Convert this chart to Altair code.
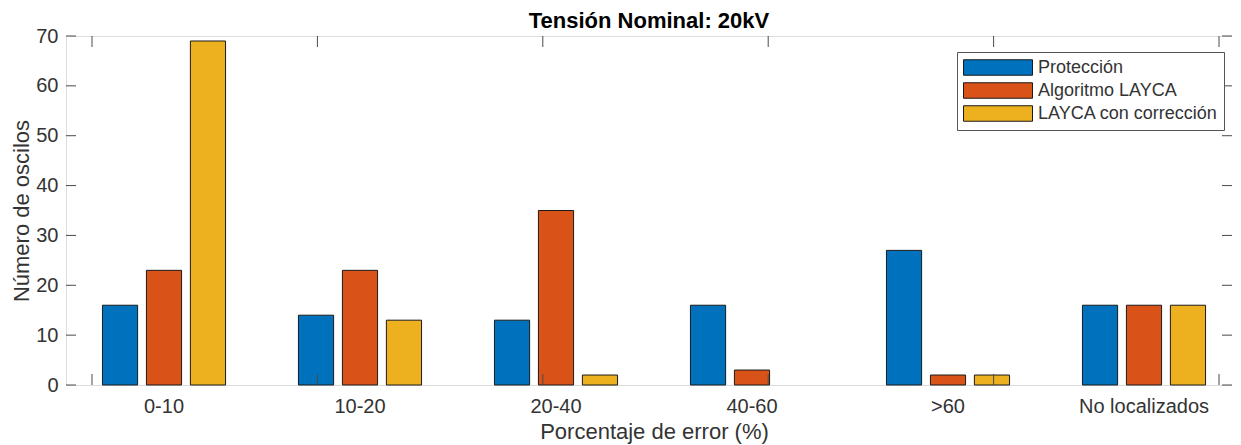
import altair as alt
import pandas as pd

# ---- data ----
categories = ["0-10", "10-20", "20-40", "40-60", ">60", "No localizados"]
series = ["Protección", "Algoritmo LAYCA", "LAYCA con corrección"]
proteccion = [16, 14, 13, 16, 27, 16]
algoritmo_layca = [23, 23, 35, 3, 2, 16]
layca_correccion = [69, 13, 2, 0, 2, 16]
colors = ["#0072BD", "#D95319", "#EDB120"]
y_ticks = [0, 10, 20, 30, 40, 50, 60, 70]
x_tick_positions = [1, 2, 3, 4, 5, 6]

rows = []
for s, vals in zip(series, [proteccion, algoritmo_layca, layca_correccion]):
    for c, v in zip(categories, vals):
        rows.append({"cat": c, "serie": s, "value": v})
df = pd.DataFrame(rows)
ydf = pd.DataFrame({"value": y_ticks})
xdf = pd.DataFrame({"p": x_tick_positions})

W, H = 1166, 349
XR = 1176  # full axis span of the original (right part cropped off)
FONT = "Liberation Sans"
AX = "#4a4a4a"
TXT = "#333333"

yscale = alt.Scale(domain=[0, 70], nice=False, zero=True)
xq = alt.Scale(domain=[0.8847, 6.102], range=[0, XR], nice=False, zero=False)
yaxis = alt.Axis(title="Número de oscilos", values=y_ticks, ticks=False,
                 domain=False, grid=False, labelPadding=8, titlePadding=2,
                 labelFontSize=20, titleFontSize=22, labelFont=FONT,
                 titleFont=FONT, labelColor=TXT, titleColor=TXT,
                 titleFontWeight="normal")

bars = alt.Chart(df).transform_filter("datum.value > 0").mark_bar(
    stroke="#1a1a1a", strokeWidth=1
).encode(
    x=alt.X("cat:N", sort=categories,
            scale=alt.Scale(paddingInner=0.327, paddingOuter=0.1635, range=[0, XR]),
            axis=alt.Axis(title="Porcentaje de error (%)", labelAngle=0, ticks=False,
                          domain=False, labelPadding=11, titlePadding=5,
                          labelFontSize=20, titleFontSize=22, labelFont=FONT,
                          titleFont=FONT, labelColor=TXT, titleColor=TXT,
                          titleFontWeight="normal", titleX=W / 2 + 5)),
    xOffset=alt.XOffset("serie:N", sort=series,
                        scale=alt.Scale(paddingInner=0.2, paddingOuter=0.1)),
    y=alt.Y("value:Q", scale=yscale, axis=yaxis),
    color=alt.Color("serie:N", sort=series,
                    scale=alt.Scale(domain=series, range=colors),
                    legend=alt.Legend(title=None, orient="none", legendX=891, legendY=16,
                                      symbolType="M-1,-0.861L6.667,-0.861L6.667,0.861L-1,0.861Z",
                                      symbolSize=324, symbolStrokeColor="#1a1a1a",
                                      symbolStrokeWidth=1, symbolOpacity=1,
                                      labelFontSize=18, labelFont=FONT, labelColor=TXT,
                                      labelOffset=56, labelLimit=400, rowPadding=2,
                                      padding=6, strokeColor="#555555",
                                      fillColor="white", cornerRadius=0)),
)

yl = alt.Chart(ydf).mark_rule(color=AX, strokeWidth=1).encode(
    y=alt.Y("value:Q", scale=yscale, axis=yaxis), x=alt.value(0), x2=alt.value(10))
yr = alt.Chart(ydf).mark_rule(color=AX, strokeWidth=1).encode(
    y=alt.Y("value:Q", scale=yscale, axis=yaxis), x=alt.value(W - 10), x2=alt.value(W))
xb = alt.Chart(xdf).mark_rule(color=AX, strokeWidth=1).encode(
    x=alt.X("p:Q", scale=xq, axis=None), y=alt.value(H - 11), y2=alt.value(H))
xt = alt.Chart(xdf).mark_rule(color=AX, strokeWidth=1).encode(
    x=alt.X("p:Q", scale=xq, axis=None), y=alt.value(0), y2=alt.value(11))

chart = alt.layer(bars, yl, yr, xb, xt).resolve_scale(x="independent").properties(
    width=W, height=H,
    title=alt.TitleParams("Tensión Nominal: 20kV", font=FONT, fontSize=22,
                          fontWeight="bold", color="black", offset=-7, anchor="middle",
                          frame="group"),
    autosize=alt.AutoSizeParams(type="none"),
    padding={"left": 58, "top": 28, "right": 0, "bottom": 70},
).configure_view(stroke=AX, strokeWidth=1).configure(background="white")

chart.save("out.html", embed_options={"renderer": "svg", "actions": False})
